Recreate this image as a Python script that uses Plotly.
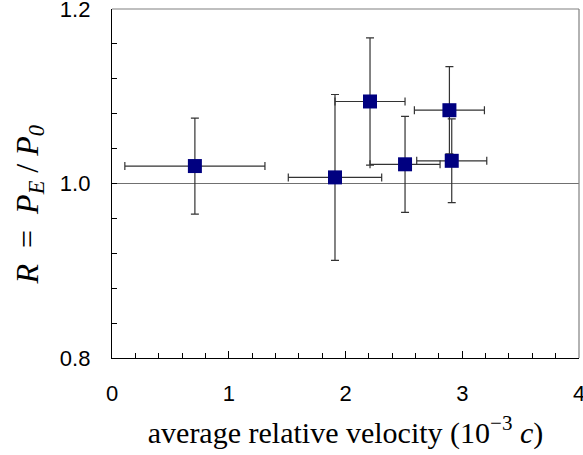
import plotly.graph_objects as go

# Data
velocity = [0.71, 1.91, 2.21, 2.51, 2.89, 2.91]          # average relative velocity (10^-3 c)
velocity_err = [0.60, 0.40, 0.30, 0.30, 0.30, 0.30]
ratio = [1.020, 1.007, 1.094, 1.022, 1.084, 1.026]        # R = P_E / P_0
ratio_err = [0.055, 0.095, 0.073, 0.055, 0.050, 0.048]
reference_level = 1.0

x_tick_vals = [0, 1, 2, 3, 4]
x_tick_text = ["0", "1", "2", "3", "4"]
y_tick_vals = [0.8, 1.0, 1.2]
y_tick_text = ["0.8", "1.0", "1.2"]

tick_font = dict(family="Liberation Sans, Arial", size=22, color="black")

fig = go.Figure()

fig.add_trace(go.Scatter(
    x=velocity, y=ratio,
    mode="markers",
    marker=dict(symbol="square", size=14, color="#000080"),
    error_x=dict(type="data", array=velocity_err, visible=True,
                 color="#333333", thickness=1.2, width=4),
    error_y=dict(type="data", array=ratio_err, visible=True,
                 color="#333333", thickness=1.2, width=4),
    showlegend=False,
    cliponaxis=False,
))

# reference line at R = 1
fig.add_shape(type="line", xref="x domain", yref="y",
              x0=0, x1=1, y0=reference_level, y1=reference_level,
              line=dict(color="#707070", width=1.2), layer="below")
# top and right frame (grey)
fig.add_shape(type="line", xref="x domain", yref="y domain",
              x0=0, x1=1, y0=1, y1=1, line=dict(color="#808080", width=1.2))
fig.add_shape(type="line", xref="x domain", yref="y domain",
              x0=1, x1=1, y0=0, y1=1, line=dict(color="#808080", width=1.2))

# y-axis title as rotated annotation for precise placement
fig.add_annotation(
    text="<i>R</i>&nbsp; = &nbsp;<i>P<sub>E</sub></i> / <i>P<sub>0</sub></i>",
    xref="paper", yref="paper", x=0, y=0.5, xanchor="center", yanchor="middle",
    xshift=-83, yshift=-22, textangle=-90, showarrow=False,
    font=dict(family="Liberation Serif, Times New Roman", size=32, color="black"),
)

fig.update_layout(
    width=583, height=455,
    margin=dict(l=112, r=4, t=9, b=97, autoexpand=False),
    paper_bgcolor="white", plot_bgcolor="white",
    font=dict(family="Liberation Sans, Arial", size=22, color="black"),
)

fig.update_xaxes(
    range=[0, 4], automargin=False,
    tickmode="array", tickvals=x_tick_vals, ticktext=x_tick_text,
    tickfont=tick_font, ticklabeloverflow="allow",
    ticks="inside", ticklen=7, tickwidth=1, tickcolor="black",
    minor=dict(dtick=0.2, ticks="inside", ticklen=5, tickwidth=1, tickcolor="black", showgrid=False),
    showline=True, linecolor="black", linewidth=1.3,
    showgrid=False, zeroline=False,
    ticklabelstandoff=15,
    title=dict(text="average relative velocity (10<sup>\u22123</sup> <i>c</i>)",
               font=dict(family="Liberation Serif, Times New Roman", size=30, color="black"),
               standoff=17),
)

fig.update_yaxes(
    range=[0.8, 1.2], automargin=False,
    tickmode="array", tickvals=y_tick_vals, ticktext=y_tick_text,
    tickfont=tick_font, ticklabeloverflow="allow",
    ticks="inside", ticklen=5, tickwidth=1, tickcolor="black",
    minor=dict(dtick=0.04, ticks="inside", ticklen=5, tickwidth=1, tickcolor="black", showgrid=False),
    showline=True, linecolor="black", linewidth=1.3,
    showgrid=False, zeroline=False,
    ticklabelstandoff=16,
)

fig.write_html("out.html", config={"displayModeBar": False},
               post_script="document.body.style.margin='0';")
